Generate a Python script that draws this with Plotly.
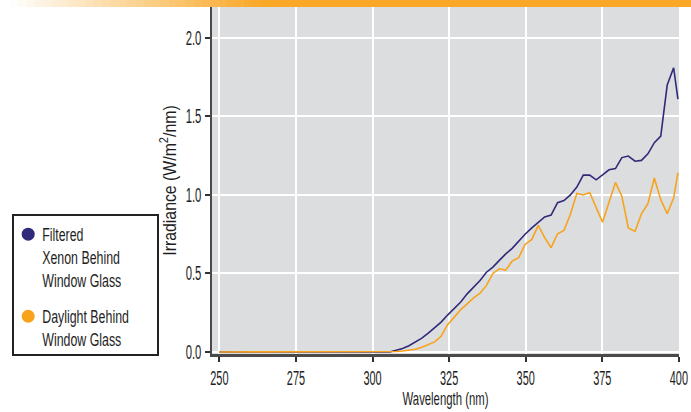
import plotly.graph_objects as go

# Wavelength (nm) positions
wavelength = [250, 305.6, 307.7, 309.8, 311.9, 314.0, 316.1, 318.2, 320.3, 322.4,
              324.5, 326.7, 328.8, 330.9, 333.0, 335.1, 337.2, 339.3, 341.4, 343.5,
              345.6, 347.7, 349.8, 352.0, 354.1, 356.2, 358.3, 360.4, 362.5, 364.6,
              366.7, 368.8, 370.9, 373.0, 375.1, 377.2, 379.3, 381.4, 383.5, 385.7,
              387.8, 389.9, 392.0, 394.1, 396.2, 398.3, 399.7]

xenon = [0, 0.0, 0.01, 0.022, 0.04, 0.062, 0.088, 0.12, 0.155, 0.19,
         0.235, 0.28, 0.318, 0.37, 0.41, 0.455, 0.508, 0.54, 0.583, 0.625,
         0.66, 0.708, 0.75, 0.79, 0.828, 0.86, 0.872, 0.951, 0.964, 1.0,
         1.05, 1.126, 1.126, 1.096, 1.128, 1.16, 1.168, 1.238, 1.248, 1.215,
         1.22, 1.262, 1.333, 1.375, 1.70, 1.81, 1.61]

daylight = [0, 0.0, 0.003, 0.006, 0.01, 0.017, 0.03, 0.047, 0.064, 0.1,
            0.174, 0.222, 0.27, 0.306, 0.344, 0.374, 0.424, 0.5, 0.53, 0.521,
            0.579, 0.60, 0.685, 0.717, 0.806, 0.728, 0.664, 0.753, 0.774, 0.877,
            1.01, 1.0, 1.016, 0.92, 0.826, 0.953, 1.08, 0.992, 0.79, 0.768,
            0.88, 0.944, 1.108, 0.97, 0.88, 0.98, 1.142]

series_names = ["Filtered<br>Xenon Behind<br>Window Glass", "Daylight Behind<br>Window Glass"]
x_ticks = [250, 275, 300, 325, 350, 375, 400]
y_ticks = [0.0, 0.5, 1.0, 1.5, 2.0]
y_ticktext = ["0.0", "0.5", "1.0", "1.5", "2.0"]

NAVY = "#2f2a79"
ORANGE = "#f7a31c"
FONT = "Liberation Sans, Arial, sans-serif"
TXT = "#1e1e1e"

W, H = 691, 412
L, R, T, B = 212, 12, 7, 58
pw = W - L - R
ph = H - T - B

fig = go.Figure()
fig.add_trace(go.Scatter(x=wavelength, y=xenon, mode="lines",
                         line=dict(color=NAVY, width=1.6), showlegend=False))
fig.add_trace(go.Scatter(x=wavelength, y=daylight, mode="lines",
                         line=dict(color=ORANGE, width=1.6), showlegend=False))
# legend entries
fig.add_trace(go.Scatter(x=[None], y=[None], mode="markers", name=series_names[0],
                         legendgroup="a", marker=dict(color=NAVY, size=13, symbol="circle")))
fig.add_trace(go.Scatter(x=[None], y=[None], mode="markers", name=series_names[1],
                         legendgroup="b", marker=dict(color=ORANGE, size=13, symbol="circle")))

# top banner: gradient from white to orange, then solid orange
shapes = []
n = 30
gx0, gx1 = 10, 260
for i in range(n):
    t = (i + 0.5) / n
    r = int(255 + (249 - 255) * t)
    g = int(255 + (168 - 255) * t)
    b = int(255 + (40 - 255) * t)
    xa = gx0 + (gx1 - gx0) * i / n
    xb = gx0 + (gx1 - gx0) * (i + 1) / n + 0.5
    shapes.append(dict(type="rect", xref="paper", yref="paper",
                       x0=(xa - L) / pw, x1=(xb - L) / pw,
                       y0=1.0, y1=1.0 + 8 / ph,
                       fillcolor=f"rgb({r},{g},{b})", line=dict(width=0), layer="above"))
shapes.append(dict(type="rect", xref="paper", yref="paper",
                   x0=(gx1 - L) / pw, x1=(W - L) / pw,
                   y0=1.0, y1=1.0 + 8 / ph,
                   fillcolor="rgb(249,168,40)", line=dict(width=0), layer="above"))

LEG_X, LEG_Y = 7, 215

fig.update_layout(
    width=W, height=H,
    margin=dict(l=L, r=R, t=T, b=B, autoexpand=False),
    paper_bgcolor="white",
    plot_bgcolor="#dcdddf",
    font=dict(family=FONT, size=14, color=TXT),
    shapes=shapes,
    showlegend=True,
    legend=dict(
        x=(LEG_X - L) / pw, xanchor="left",
        y=(H - B - LEG_Y) / ph, yanchor="top",
        bgcolor="white", bordercolor="#222", borderwidth=1.2,
        font=dict(family=FONT, size=17.7, color=TXT),
        tracegroupgap=10, valign="top",
    ),
    xaxis=dict(
        range=[247.6, 400.05], tickmode="array", tickvals=x_ticks,
        showgrid=True, gridcolor="white", gridwidth=2,
        showline=True, linecolor="#4a4a4a", linewidth=3,
        ticks="outside", ticklen=5, tickwidth=1.5, tickcolor="#333",
        zeroline=False, ticklabeloverflow="allow", automargin=False,
        tickfont=dict(family=FONT, size=19.5, color=TXT),
        title=dict(text="Wavelength (nm)", standoff=4,
                   font=dict(family=FONT, size=18, color=TXT)),
    ),
    yaxis=dict(
        range=[-0.013, 2.197], tickmode="array", tickvals=y_ticks, ticktext=y_ticktext,
        showgrid=True, gridcolor="white", gridwidth=2,
        showline=True, linecolor="#4a4a4a", linewidth=1.5,
        ticks="outside", ticklen=5, tickwidth=1.5, tickcolor="#333",
        zeroline=False, automargin=False,
        tickfont=dict(family=FONT, size=19.5, color=TXT),
        title=dict(text="Irradiance (W/m<sup>2</sup>/nm)", standoff=0,
                   font=dict(family=FONT, size=18, color=TXT)),
    ),
)

# condensed lettering (horizontal squeeze of each text about its anchor) and legend box fit
post = """
document.body.style.margin = '0';
var gd = document.getElementById('{plot_id}');
function squeeze(sel, s, dx, ox) {
  gd.querySelectorAll(sel).forEach(function (t) {
    var x = parseFloat(t.getAttribute('x')) || 0;
    var y = parseFloat(t.getAttribute('y')) || 0;
    var tr = t.getAttribute('transform') || '';
    t.setAttribute('transform', 'translate(' + (ox || 0) + ',0) ' + tr + ' translate(' + (x + (dx || 0)) + ',' + y + ') scale(' + s + ',1) translate(' + (-x) + ',' + (-y) + ')');
  });
}
squeeze('.xtick text', 0.56);
squeeze('.ytick text', 0.58);
squeeze('.g-xtitle text', 0.63);
squeeze('.g-ytitle text', 0.88, 0, 7);
squeeze('.legendtext', 0.7, -6);
var bg = gd.querySelector('.legend rect.bg');
if (bg) { bg.setAttribute('x', 6); bg.setAttribute('width', 145); bg.setAttribute('height', 140); bg.setAttribute('y', 0); }
"""

fig.write_html("out.html", post_script=post, config={"displayModeBar": False})
